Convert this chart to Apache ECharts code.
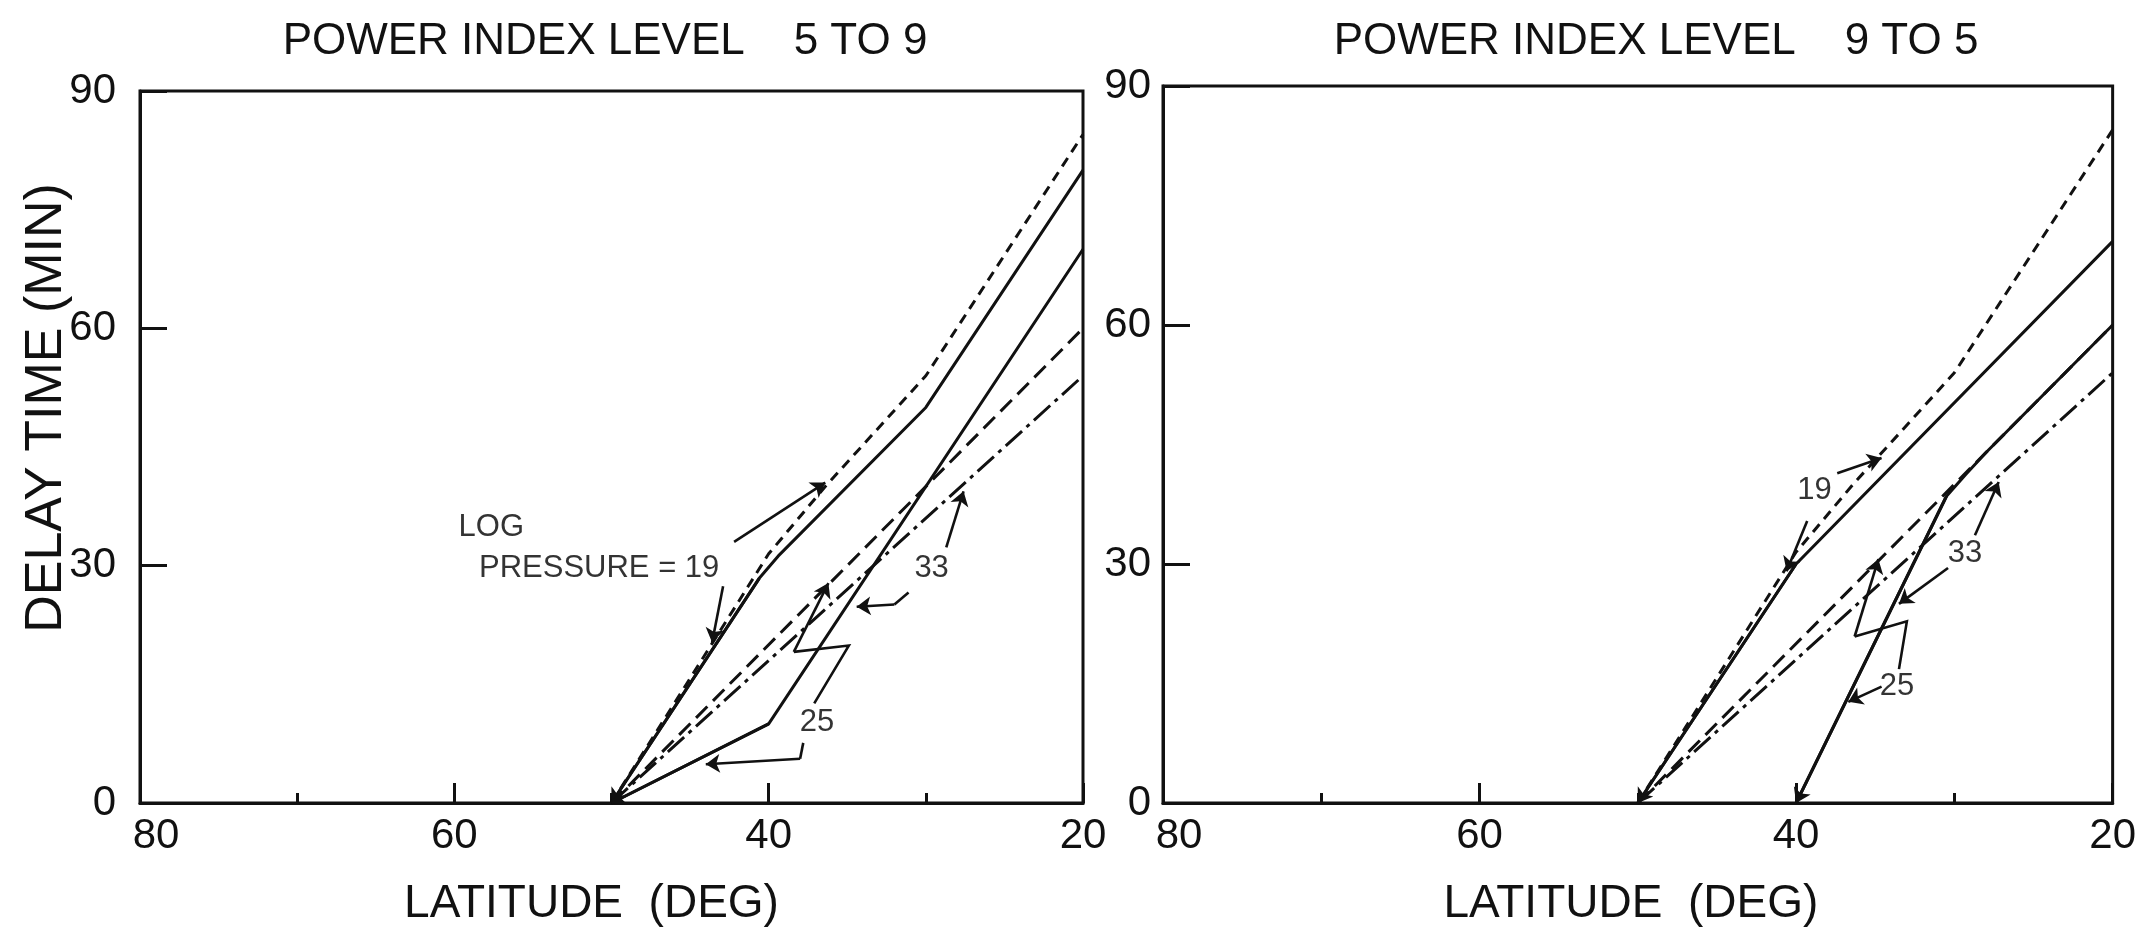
<!DOCTYPE html>
<html>
<head>
<meta charset="utf-8">
<title>Delay time vs latitude</title>
<script src="https://cdn.jsdelivr.net/npm/echarts@6/dist/echarts.min.js"></script>
<style>
  html, body { margin: 0; padding: 0; background: #fff; }
  #chart { width: 2139px; height: 932px; }
</style>
</head>
<body>
<div id="chart"></div>
<script>
// axis ticks
const latTicks = [80, 60, 40, 20];
const delayTicks = [0, 30, 60, 90];

// reference curves, drawn the same in both panels: [latitude, delay]
const dashed19 = [[50, 0], [40, 31.5], [36.4, 40], [30, 54], [20, 84.5]];
const dashed25 = [[50, 0], [20, 60]];
const dashDot33 = [[50, 0], [20, 54]];

// panel 1: power index 5 to 9
const solid19Up = [[50, 0], [40.6, 28.4], [39.4, 31.2], [30, 50], [20, 80]];
const solid25Up = [[50, 0], [40, 10], [20, 70]];

// panel 2: power index 9 to 5
const solid19Down = [[50, 0], [40, 30], [20, 70.5]];
const solid25Down = [[40, 0], [30.5, 38.5], [29.3, 41.2], [28, 44], [20, 60]];

// leader arrows (last point = arrow tip)
const leadersUp = [
  [[42.9, 27.4], [43.6, 20.3]],
  [[42.2, 33.0], [36.4, 40.5]],
  [[37.1, 12.6], [34.9, 19.9], [38.4, 19.1], [36.2, 27.8]],
  [[37.8, 7.6], [38.0, 5.6], [44.0, 4.9]],
  [[31.1, 26.6], [32.0, 25.1], [34.4, 24.8]],
  [[28.7, 32.3], [27.6, 39.4]]
];
const leadersDown = [
  [[39.3, 35.4], [40.6, 29.1]],
  [[37.4, 41.4], [34.6, 43.3]],
  [[30.4, 29.5], [33.5, 25.0]],
  [[28.7, 33.6], [27.2, 40.3]],
  [[34.6, 14.6], [36.7, 12.7]],
  [[33.5, 16.8], [33.0, 22.8], [36.3, 20.9], [34.8, 30.6]]
];

// annotation text
const captionUp = [{ name: 'LOG', value: [59.7, 34.8] }, { name: 'PRESSURE = 19', value: [58.4, 29.6] }];
const notesUp = [{ name: '25', value: [36.9, 10.1] }, { name: '33', value: [29.6, 29.6] }];
const notesDown = [{ name: '19', value: [38.8, 39.2] }, { name: '33', value: [29.3, 31.3] }, { name: '25', value: [33.6, 14.6] }];

const FONT = '"Liberation Sans", Arial, sans-serif';
const INK = '#111111';

function xAxisFor(gi, pad) {
  return {
    gridIndex: gi, type: 'value', min: 20, max: 80, interval: 20, inverse: true,
    axisLine: { show: true, lineStyle: { color: INK, width: 3 } },
    axisTick: { show: true, inside: true, length: 20, lineStyle: { color: INK, width: 3 } },
    minorTick: { show: true, splitNumber: 2, length: 10, lineStyle: { color: INK, width: 3 } },
    splitLine: { show: false },
    axisLabel: {
      margin: 12, fontSize: 42, fontFamily: FONT, color: INK,
      formatter: v => (latTicks.indexOf(v) < 0 ? '' : (v === 80 ? '{s|80}' : String(v))),
      rich: { s: { padding: [0, 0, 0, 32], fontSize: 42, fontFamily: FONT, color: INK } }
    },
    name: 'LATITUDE  (DEG)', nameLocation: 'middle', nameGap: 78,
    nameTextStyle: { fontSize: 46, fontFamily: FONT, color: INK, padding: pad }
  };
}

function yAxisFor(gi, margin) {
  return {
    gridIndex: gi, type: 'value', min: 0, max: 90, interval: 30,
    axisLine: { show: true, lineStyle: { color: INK, width: 3 } },
    axisTick: { show: true, inside: true, length: 27, lineStyle: { color: INK, width: 3 } },
    splitLine: { show: false },
    axisLabel: {
      margin: margin, fontSize: 42, fontFamily: FONT, color: INK,
      formatter: v => (delayTicks.indexOf(v) < 0 ? '' : String(v))
    }
  };
}

function curve(pts, gi, dash) {
  return {
    type: 'line', xAxisIndex: gi, yAxisIndex: gi, data: pts, symbol: 'none', silent: true,
    lineStyle: { color: INK, width: 3, type: dash || 'solid' }, z: 3
  };
}

// bodies of leaders as polylines, final segments with an arrow head
function leaderSeries(leaders, gi) {
  const bodies = leaders.filter(l => l.length > 2).map(l => ({ coords: l.slice(0, -1) }));
  const tips = leaders.map(l => ({ coords: l.slice(-2) }));
  return [
    {
      type: 'lines', coordinateSystem: 'cartesian2d', xAxisIndex: gi, yAxisIndex: gi,
      polyline: true, silent: true, data: bodies,
      lineStyle: { color: INK, width: 2.6, opacity: 1 }, z: 4
    },
    {
      type: 'lines', coordinateSystem: 'cartesian2d', xAxisIndex: gi, yAxisIndex: gi,
      silent: true, data: tips, symbol: ['none', 'arrow'], symbolSize: 14,
      lineStyle: { color: INK, width: 2.6, opacity: 1 }, z: 4
    }
  ];
}

// arrow heads where the solid curves come back to zero
function endArrows(curves, gi) {
  return {
    type: 'lines', coordinateSystem: 'cartesian2d', xAxisIndex: gi, yAxisIndex: gi,
    silent: true, symbol: ['none', 'arrow'], symbolSize: 14,
    data: curves.map(c => ({ coords: [c[1], c[0]] })),
    lineStyle: { color: INK, width: 3, opacity: 1 }, z: 4
  };
}

function notes(items, gi, align) {
  return {
    type: 'scatter', xAxisIndex: gi, yAxisIndex: gi, data: items, symbolSize: 1, silent: true,
    itemStyle: { color: 'transparent' },
    label: {
      show: true, formatter: '{b}', position: [0, 0], align: align, verticalAlign: 'middle',
      fontSize: 31, fontFamily: FONT, color: '#000', textBorderWidth: 0
    }, z: 5
  };
}

const chart = echarts.init(document.getElementById('chart'), null, { renderer: 'canvas' });

chart.setOption({
  animation: false,
  backgroundColor: '#ffffff',
  grid: [
    { left: 140, top: 91, width: 943, height: 712, show: true, borderColor: INK, borderWidth: 3, backgroundColor: 'transparent' },
    { left: 1163, top: 86, width: 952, height: 717, show: true, borderColor: INK, borderWidth: 3, backgroundColor: 'transparent' }
  ],
  xAxis: [xAxisFor(0, [0, 40, 0, 0]), xAxisFor(1, [0, 14, 0, 0])],
  yAxis: [yAxisFor(0, 24), yAxisFor(1, 12)],
  graphic: [
    {
      type: 'text', x: 605, y: 42,
      style: { text: 'POWER INDEX LEVEL    5 TO 9', fontSize: 44, fontFamily: FONT, fill: INK, align: 'center', verticalAlign: 'middle' }
    },
    {
      type: 'text', x: 1656, y: 42,
      style: { text: 'POWER INDEX LEVEL    9 TO 5', fontSize: 44, fontFamily: FONT, fill: INK, align: 'center', verticalAlign: 'middle' }
    },
    {
      type: 'text', x: 47, y: 408, rotation: Math.PI / 2,
      style: { text: 'DELAY TIME (MIN)', fontSize: 52, fontFamily: FONT, fill: INK, align: 'center', verticalAlign: 'middle' }
    }
  ],
  series: [
    curve(dashed19, 0, [10, 7]),
    curve(dashed25, 0, [16, 8]),
    curve(dashDot33, 0, [22, 6, 4, 6]),
    curve(solid19Up, 0),
    curve(solid25Up, 0),
    endArrows([solid19Up, solid25Up], 0),
    ...leaderSeries(leadersUp, 0),
    notes(captionUp, 0, 'left'),
    notes(notesUp, 0, 'center'),

    curve(dashed19, 1, [10, 7]),
    curve(dashed25, 1, [16, 8]),
    curve(dashDot33, 1, [22, 6, 4, 6]),
    curve(solid19Down, 1),
    curve(solid25Down, 1),
    endArrows([solid19Down, solid25Down], 1),
    ...leaderSeries(leadersDown, 1),
    notes(notesDown, 1, 'center')
  ]
});
</script>
</body>
</html>
